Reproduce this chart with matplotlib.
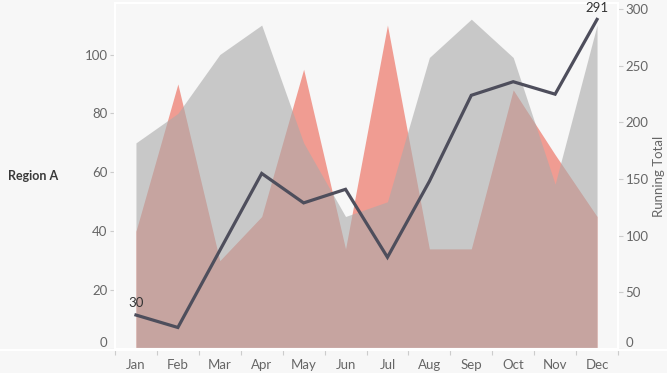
import matplotlib
matplotlib.use('Agg')
import matplotlib.pyplot as plt
from matplotlib.lines import Line2D

plt.rcParams['font.family'] = ['Lato', 'DejaVu Sans']

months = ['Jan', 'Feb', 'Mar', 'Apr', 'May', 'Jun', 'Jul', 'Aug', 'Sep', 'Oct', 'Nov', 'Dec']
gray_vals = [70, 80, 100, 110, 70, 45, 50, 99, 112, 99, 56, 110]
red_vals = [40, 90, 30, 45, 95, 34, 110, 34, 34, 88, 66, 45]
running_total = [30, 19, 87, 155, 129, 141, 81, 148, 224, 236, 225, 291]
row_label = 'Region A'

bg = '#f7f7f7'
tick_col = '#666666'
x = list(range(len(months)))

fig = plt.figure(figsize=(6.67, 3.73), dpi=100, facecolor=bg)
ax = fig.add_axes([115 / 667, 1 - 349 / 373, 503 / 667, 346 / 373])
ax.set_facecolor(bg)

ax.fill_between(x, red_vals, color='#f09c92', lw=0)
ax.fill_between(x, gray_vals, color='#aaaaaa', alpha=0.6, lw=0)
ax.set_xlim(-0.5, 11.5)
ax.set_ylim(0, 117.5)
ax.set_yticks(range(0, 101, 20))

ax2 = ax.twinx()
ax2.plot(x, running_total, color='#4e4e5c', lw=2.3, solid_joinstyle='miter')
ax2.set_ylim(0, 305.5)
ax2.set_yticks(range(0, 301, 50))
ax2.set_ylabel('Running Total', color=tick_col, fontsize=9.5, labelpad=3)

for i in (0, len(months) - 1):
    ax2.annotate(str(running_total[i]), (i, running_total[i]), xytext=(0, 4),
                 textcoords='offset points', ha='center', va='bottom',
                 fontsize=9.5, color='#333333', annotation_clip=False)

ax.set_xticks(x)
ax.set_xticklabels(months)
ax.set_xticks([i - 0.5 for i in range(len(months) + 1)], minor=True)
ax.tick_params(axis='x', which='major', length=0, pad=7, labelsize=9.5, labelcolor=tick_col)
ax.tick_params(axis='x', which='minor', length=4, color='#cccccc', width=0.8)
ax.tick_params(axis='y', length=3.5, pad=2, color='#cccccc', width=0.8, labelsize=9.5, labelcolor=tick_col)
ax2.tick_params(axis='y', length=3.5, pad=2, color='#cccccc', width=0.8, labelsize=9.5, labelcolor=tick_col)

# zero labels sit above the baseline
for a in (ax, ax2):
    lbls = a.get_yticklabels()
    lbls[0].set_verticalalignment('bottom')

for a in (ax, ax2):
    for s in a.spines.values():
        s.set_color('white')
        s.set_linewidth(1.5)

fig.add_artist(Line2D([0, 1], [1 - 349.5 / 373] * 2, transform=fig.transFigure, color='white', lw=1.5))

fig.text(8 / 667, 1 - 176 / 373, row_label, fontsize=9, fontweight='bold', color='#3a3a3a',
         ha='left', va='center')

fig.savefig('out.png', dpi=100, facecolor=bg)
